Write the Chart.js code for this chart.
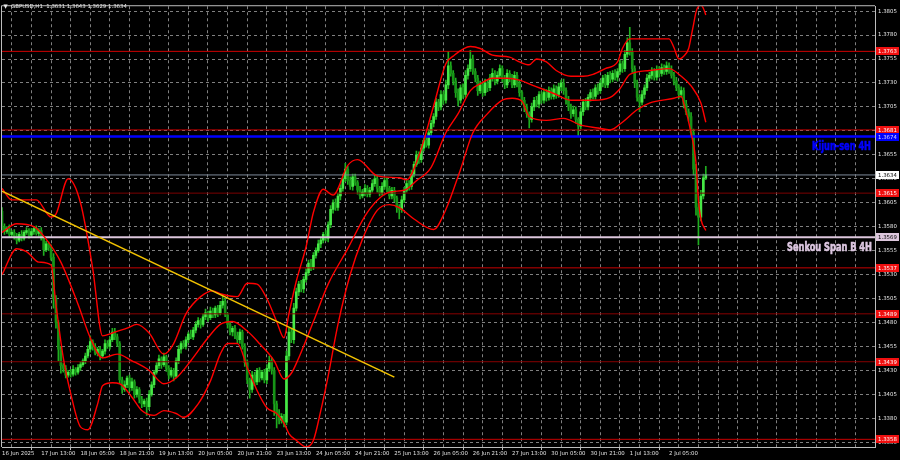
<!DOCTYPE html>
<html>
<head>
<meta charset="utf-8">
<script src="https://cdn.jsdelivr.net/npm/chart.js@4.4.1/dist/chart.umd.min.js"></script>
<style>
  html, body { margin: 0; padding: 0; background: #000; }
  canvas { display: block; }
</style>
</head>
<body>
<canvas id="chart" width="900" height="460"></canvas>
<script>
const headerText = 'GBPUSD,H1  1.3631 1.3643 1.3629 1.3634';

// one label every 16 hourly bars
const timeLabels = ['16 Jun 2025', '17 Jun 13:00', '18 Jun 05:00', '18 Jun 21:00', '19 Jun 13:00',
  '20 Jun 05:00', '20 Jun 21:00', '23 Jun 13:00', '24 Jun 05:00', '24 Jun 21:00', '25 Jun 13:00',
  '26 Jun 05:00', '26 Jun 21:00', '27 Jun 13:00', '30 Jun 05:00', '30 Jun 21:00', '1 Jul 13:00', '2 Jul 05:00'];

const priceTicks = [1.3805, 1.3780, 1.3755, 1.3730, 1.3705, 1.3680, 1.3655, 1.3630, 1.3605, 1.3580,
  1.3555, 1.3530, 1.3505, 1.3480, 1.3455, 1.3430, 1.3405, 1.3380, 1.3355];

// H1 candles: close of each bar, open = previous close
const firstOpen = 1.3596;
const closes = [
  1.3580, 1.3575, 1.3578, 1.3572, 1.3574, 1.3570, 1.3566, 1.3572, 1.3568, 1.3574, 1.3576, 1.3571, 1.3575, 1.3578, 1.3573, 1.3576,
  1.3568, 1.3556, 1.3562, 1.3558, 1.3548, 1.3505, 1.3480, 1.3452, 1.3435, 1.3432, 1.3425, 1.3428, 1.3426, 1.3431, 1.3428, 1.3433,
  1.3436, 1.3440, 1.3445, 1.3452, 1.3460, 1.3455, 1.3448, 1.3452, 1.3445, 1.3450, 1.3458, 1.3455, 1.3462, 1.3470, 1.3465, 1.3458,
  1.3420, 1.3410, 1.3415, 1.3422, 1.3412, 1.3418, 1.3405, 1.3410, 1.3400, 1.3395, 1.3398, 1.3392, 1.3405, 1.3415, 1.3428, 1.3435,
  1.3442, 1.3436, 1.3444, 1.3432, 1.3425, 1.3430, 1.3424, 1.3440, 1.3452, 1.3458, 1.3455, 1.3462, 1.3468, 1.3465, 1.3472, 1.3478,
  1.3482, 1.3478, 1.3486, 1.3490, 1.3485, 1.3492, 1.3488, 1.3495, 1.3490, 1.3498, 1.3502, 1.3488, 1.3478, 1.3470, 1.3474, 1.3466,
  1.3462, 1.3470, 1.3455, 1.3438, 1.3420, 1.3410, 1.3425, 1.3418, 1.3430, 1.3422, 1.3428, 1.3420, 1.3432, 1.3440, 1.3430, 1.3395,
  1.3385, 1.3378, 1.3382, 1.3376, 1.3445, 1.3470, 1.3462, 1.3495, 1.3512, 1.3520, 1.3515, 1.3525, 1.3532, 1.3542, 1.3538, 1.3550,
  1.3555, 1.3562, 1.3566, 1.3572, 1.3568, 1.3582, 1.3598, 1.3605, 1.3600, 1.3612, 1.3620, 1.3630, 1.3640, 1.3628, 1.3622, 1.3632,
  1.3626, 1.3618, 1.3612, 1.3616, 1.3620, 1.3614, 1.3618, 1.3625, 1.3630, 1.3620, 1.3615, 1.3622, 1.3628, 1.3620, 1.3612, 1.3618,
  1.3610, 1.3600, 1.3598, 1.3608, 1.3618, 1.3625, 1.3622, 1.3635, 1.3645, 1.3655, 1.3650, 1.3662, 1.3670, 1.3665, 1.3678, 1.3688,
  1.3695, 1.3710, 1.3705, 1.3718, 1.3712, 1.3728, 1.3748, 1.3740, 1.3732, 1.3720, 1.3712, 1.3725, 1.3718, 1.3738, 1.3745, 1.3755,
  1.3742, 1.3735, 1.3722, 1.3728, 1.3720, 1.3730, 1.3725, 1.3735, 1.3740, 1.3732, 1.3738, 1.3745, 1.3735, 1.3728, 1.3740, 1.3735,
  1.3728, 1.3738, 1.3730, 1.3720, 1.3712, 1.3705, 1.3698, 1.3692, 1.3705, 1.3712, 1.3708, 1.3718, 1.3712, 1.3720, 1.3715, 1.3722,
  1.3716, 1.3724, 1.3718, 1.3726, 1.3730, 1.3722, 1.3712, 1.3705, 1.3698, 1.3702, 1.3692, 1.3685, 1.3700, 1.3710, 1.3705, 1.3715,
  1.3720, 1.3716, 1.3725, 1.3722, 1.3730, 1.3735, 1.3728, 1.3738, 1.3734, 1.3740, 1.3736, 1.3742, 1.3750, 1.3745, 1.3760, 1.3772,
  1.3762, 1.3745, 1.3730, 1.3715, 1.3710, 1.3718, 1.3725, 1.3735, 1.3738, 1.3742, 1.3736, 1.3744, 1.3740, 1.3746, 1.3742, 1.3748,
  1.3744, 1.3738, 1.3732, 1.3725, 1.3718, 1.3722, 1.3708, 1.3700, 1.3695, 1.3678, 1.3640, 1.3600, 1.3590, 1.3612, 1.3631, 1.3634
];
// wick length in pips above / below the body
const wickUp = [
  4, 3, 2, 4, 2, 3, 3, 2, 4, 2, 3, 2, 3, 2, 3, 2,
  3, 2, 3, 2, 3, 4, 3, 2, 3, 2, 3, 2, 3, 4, 2, 3,
  3, 2, 3, 4, 6, 2, 3, 2, 3, 2, 4, 3, 3, 4, 4, 3,
  2, 3, 4, 2, 3, 4, 2, 3, 2, 3, 2, 3, 4, 3, 2, 3,
  4, 2, 4, 2, 3, 3, 2, 3, 4, 2, 3, 3, 2, 4, 3, 3,
  3, 2, 3, 4, 2, 4, 3, 2, 3, 4, 7, 3, 2, 3, 2, 3,
  4, 3, 2, 3, 3, 2, 4, 3, 2, 3, 2, 3, 4, 5, 3, 3,
  3, 4, 3, 2, 5, 4, 3, 5, 4, 3, 4, 3, 4, 3, 4, 3,
  3, 4, 3, 2, 4, 3, 4, 3, 4, 3, 4, 5, 6, 3, 4, 3,
  3, 2, 4, 3, 4, 3, 3, 4, 4, 3, 2, 4, 3, 3, 2, 3,
  3, 2, 3, 4, 3, 4, 3, 4, 3, 4, 3, 4, 3, 4, 4, 3,
  3, 4, 3, 4, 3, 5, 15, 4, 3, 3, 4, 3, 4, 5, 4, 9,
  4, 3, 3, 4, 3, 4, 3, 4, 5, 3, 4, 4, 3, 3, 4, 3,
  4, 4, 3, 3, 2, 3, 3, 2, 4, 3, 4, 3, 3, 4, 3, 4,
  3, 4, 3, 4, 3, 4, 3, 4, 3, 4, 3, 2, 4, 3, 4, 3,
  3, 4, 3, 4, 3, 3, 4, 3, 4, 3, 4, 3, 4, 3, 4, 5,
  16, 4, 3, 3, 3, 4, 3, 4, 3, 4, 3, 4, 3, 4, 3, 4,
  3, 4, 3, 4, 3, 4, 3, 4, 3, 4, 4, 5, 4, 6, 4, 9
];
const wickDown = [
  4, 3, 2, 3, 2, 3, 4, 2, 3, 2, 2, 3, 2, 3, 2, 3,
  2, 6, 2, 3, 3, 10, 6, 12, 8, 4, 3, 2, 3, 2, 3, 2,
  3, 2, 3, 2, 3, 4, 2, 3, 4, 2, 3, 2, 3, 2, 3, 3,
  3, 4, 2, 3, 4, 3, 4, 3, 4, 4, 3, 9, 3, 2, 3, 2,
  3, 4, 2, 3, 4, 2, 5, 2, 3, 4, 2, 3, 3, 2, 3, 3,
  3, 4, 2, 3, 4, 2, 3, 3, 4, 2, 3, 2, 4, 3, 4, 3,
  3, 4, 3, 4, 4, 9, 3, 4, 3, 4, 2, 3, 4, 3, 4, 12,
  15, 4, 3, 5, 3, 4, 3, 4, 3, 4, 3, 4, 3, 3, 4, 3,
  3, 2, 4, 3, 3, 4, 3, 4, 3, 3, 4, 3, 3, 4, 3, 4,
  3, 4, 3, 2, 4, 3, 3, 2, 3, 4, 3, 2, 3, 4, 3, 3,
  4, 5, 10, 3, 3, 2, 4, 3, 3, 2, 4, 3, 3, 2, 3, 3,
  4, 3, 4, 3, 4, 3, 4, 3, 4, 5, 6, 3, 4, 3, 4, 3,
  3, 4, 5, 3, 4, 3, 4, 3, 3, 4, 3, 3, 4, 4, 3, 4,
  3, 3, 4, 4, 4, 5, 4, 9, 3, 4, 3, 4, 3, 3, 4, 3,
  3, 3, 4, 3, 4, 4, 4, 4, 5, 3, 4, 10, 3, 4, 3, 3,
  4, 3, 3, 4, 3, 4, 3, 3, 4, 3, 3, 4, 3, 4, 3, 3,
  3, 4, 5, 4, 10, 3, 4, 3, 3, 4, 3, 3, 4, 3, 3, 3,
  4, 3, 4, 3, 4, 3, 4, 3, 5, 4, 6, 8, 29, 4, 3, 2
];

// Bollinger bands, read at bar positions
const bbUpperBars = [0, 4, 14, 20, 22, 27, 32, 37, 41, 45, 51, 55, 60, 66, 70, 75, 81, 86, 89, 96,
  100, 104, 108, 112, 115, 117, 120, 124, 127, 131, 135, 141, 145, 153, 162, 165, 170, 176, 181, 184,
  191, 195, 200, 207, 211, 215, 218, 222, 226, 232, 237, 241, 246, 251, 253, 256, 263, 272, 274, 276,
  278, 280, 281, 282, 283, 284, 285, 286, 287];
const bbUpper = [1.3620, 1.3608, 1.3608, 1.3590, 1.3593, 1.3630, 1.3605, 1.3536, 1.3466, 1.3469,
  1.3474, 1.3478, 1.3469, 1.3447, 1.3458, 1.3489, 1.3507, 1.3513, 1.3510, 1.3507,
  1.3521, 1.3520, 1.3505, 1.3481, 1.3464, 1.3489, 1.3523, 1.3559, 1.3595, 1.3619,
  1.3613, 1.3644, 1.3650, 1.3633, 1.3631, 1.3629, 1.3654, 1.3706, 1.3750, 1.3758,
  1.3768, 1.3766, 1.3759, 1.3757, 1.3752, 1.3749, 1.3755, 1.3752, 1.3743, 1.3737,
  1.3737, 1.3739, 1.3745, 1.3752, 1.3766, 1.3776, 1.3776, 1.3776, 1.3767, 1.3755,
  1.3758, 1.3766, 1.3778, 1.3791, 1.3804, 1.3810, 1.3811, 1.3808, 1.3801];
const bbMiddleBars = [0, 6, 13, 18, 24, 31, 36, 41, 47, 53, 60, 66, 71, 77, 84, 89, 94, 100, 105, 111,
  115, 118, 121, 127, 133, 141, 149, 158, 164, 169, 175, 181, 186, 191, 195, 200, 206, 211, 217, 225,
  232, 241, 248, 252, 256, 264, 272, 277, 281, 285, 287];
const bbMiddle = [1.3574, 1.3583, 1.3580, 1.3567, 1.3543, 1.3499, 1.3464, 1.3443, 1.3447, 1.3440,
  1.3430, 1.3416, 1.3422, 1.3440, 1.3464, 1.3478, 1.3481, 1.3471, 1.3458, 1.3440,
  1.3421, 1.3427, 1.3443, 1.3481, 1.3520, 1.3557, 1.3595, 1.3616, 1.3618, 1.3628,
  1.3642, 1.3678, 1.3698, 1.3722, 1.3729, 1.3735, 1.3735, 1.3733, 1.3727, 1.3719,
  1.3712, 1.3712, 1.3715, 1.3724, 1.3739, 1.3743, 1.3745, 1.3737, 1.3727, 1.3709, 1.3689];
const bbLowerBars = [0, 6, 10, 15, 20, 22, 25, 28, 32, 35, 39, 41, 45, 48, 53, 57, 62, 66, 71, 74,
  80, 85, 89, 92, 96, 100, 104, 108, 112, 115, 117, 120, 124, 127, 130, 133, 137, 142, 147, 153,
  158, 162, 168, 176, 181, 187, 192, 198, 204, 208, 212, 215, 222, 229, 236, 243, 248, 253, 259, 264,
  274, 277, 278, 281, 283, 284, 285, 287];
const bbLower = [1.3530, 1.3557, 1.3554, 1.3543, 1.3540, 1.3499, 1.3443, 1.3406, 1.3371, 1.3368,
  1.3395, 1.3414, 1.3417, 1.3416, 1.3402, 1.3388, 1.3383, 1.3388, 1.3385, 1.3381,
  1.3395, 1.3419, 1.3447, 1.3458, 1.3458, 1.3433, 1.3409, 1.3391, 1.3385, 1.3375,
  1.3364, 1.3357, 1.3350, 1.3357, 1.3388, 1.3424, 1.3478, 1.3530, 1.3567, 1.3597,
  1.3603, 1.3600, 1.3588, 1.3577, 1.3598, 1.3640, 1.3678, 1.3698, 1.3712, 1.3714,
  1.3711, 1.3695, 1.3691, 1.3693, 1.3686, 1.3683, 1.3681, 1.3689, 1.3702, 1.3709,
  1.3714, 1.3716, 1.3709, 1.3678, 1.3647, 1.3608, 1.3588, 1.3576];

// horizontal levels
const levelPrices = [1.3763, 1.3681, 1.3615, 1.3537, 1.3489, 1.3439, 1.3358];
const kijunPrice = 1.3674;
const senkouPrice = 1.3569;
const bidPrice = 1.3634;
const kijunText = 'Kijun-sen 4H';
const senkouText = 'Senkou Span B 4H';

// trend line
const trendBars = [0, 160];
const trendPrices = [1.3617, 1.3423];

// ---- styling ----
const X_MAX = 356;
const Y_MIN = 1.3350;
const Y_MAX = 1.38101;
const PIP = 0.0001;
const GRID = 'rgba(160,160,160,0.8)';
const FRAME = '#bdbdbd';
const AXIS_FONT = { family: 'DejaVu Sans', size: 5.4 };
const levelShades = ['#d00000', '#c40000', '#7c0000', '#c80000', '#880000', '#880000', '#c80000'];

const opens = closes.map((c, i) => (i === 0 ? firstOpen : closes[i - 1]));
const highs = closes.map((c, i) => Math.max(opens[i], c) + wickUp[i] * PIP);
const lows = closes.map((c, i) => Math.min(opens[i], c) - wickDown[i] * PIP);

const toPoints = (xs, ys) => xs.map((x, i) => ({ x: x, y: ys[i] }));

function hLine(price, color, width) {
  return {
    type: 'line',
    data: [{ x: 0, y: price }, { x: X_MAX, y: price }],
    borderColor: color,
    borderWidth: width,
    pointRadius: 0,
    order: 3
  };
}

function band(xs, ys) {
  return {
    type: 'line',
    data: toPoints(xs, ys),
    borderColor: '#ff0000',
    borderWidth: 1.4,
    pointRadius: 0,
    cubicInterpolationMode: 'monotone',
    order: 2
  };
}

const datasets = [
  {
    type: 'bar',
    data: closes.map((c, i) => ({ x: i, y: [lows[i], highs[i]] })),
    backgroundColor: '#1fae1f',
    borderWidth: 0,
    barThickness: 1,
    grouped: false,
    order: 11
  },
  {
    type: 'bar',
    data: closes.map((c, i) => ({ x: i, y: [opens[i], c] })),
    backgroundColor: (c) => (closes[c.dataIndex] >= opens[c.dataIndex] ? '#46e846' : '#179417'),
    borderWidth: 0,
    barThickness: 2,
    minBarLength: 1,
    grouped: false,
    order: 10
  },
  band(bbUpperBars, bbUpper),
  band(bbMiddleBars, bbMiddle),
  band(bbLowerBars, bbLower),
  ...levelPrices.map((p, i) => hLine(p, levelShades[i], 1)),
  hLine(bidPrice, '#7d8a99', 1),
  hLine(senkouPrice, '#dcc6dc', 2),
  hLine(kijunPrice, '#0000ff', 2.5),
  {
    type: 'line',
    data: toPoints(trendBars, trendPrices),
    borderColor: '#f2c200',
    borderWidth: 1.5,
    pointRadius: 0,
    order: 0
  }
];

function fittedText(ctx, text, right, cy, width, color) {
  ctx.save();
  ctx.font = 'bold 12px "Liberation Sans Narrow", "DejaVu Sans Condensed", "Liberation Sans", sans-serif';
  const w = ctx.measureText(text).width;
  ctx.translate(right - width, cy);
  ctx.scale(width / w, 1);
  ctx.fillStyle = color;
  ctx.strokeStyle = color;
  ctx.lineWidth = 0.6;
  ctx.textBaseline = 'middle';
  ctx.textAlign = 'left';
  ctx.fillText(text, 0, 0);
  ctx.strokeText(text, 0, 0);
  ctx.restore();
}

function priceTag(ctx, area, yPix, text, bg, fg) {
  ctx.fillStyle = bg;
  ctx.fillRect(area.right + 1, Math.round(yPix) - 4, 23, 8);
  ctx.fillStyle = fg;
  ctx.font = '5.4px "DejaVu Sans"';
  ctx.textBaseline = 'middle';
  ctx.textAlign = 'left';
  ctx.fillText(text, area.right + 3, Math.round(yPix) + 0.5);
}

const overlay = {
  id: 'overlay',
  afterDatasetsDraw(chart) {
    const { ctx, chartArea, scales } = chart;
    const y = scales.y;
    ctx.save();
    ctx.beginPath();
    ctx.rect(chartArea.left, chartArea.top, chartArea.right - chartArea.left, chartArea.bottom - chartArea.top);
    ctx.clip();
    fittedText(ctx, kijunText, chartArea.right - 4, y.getPixelForValue(kijunPrice) + 10, 59, '#0000ff');
    fittedText(ctx, senkouText, chartArea.right - 3, y.getPixelForValue(senkouPrice) + 11, 85, '#dcc6e0');
    ctx.restore();
  },
  afterDraw(chart) {
    const { ctx, chartArea, scales } = chart;
    const y = scales.y;
    ctx.save();
    // frame left / top
    ctx.strokeStyle = FRAME;
    ctx.lineWidth = 1;
    ctx.beginPath();
    ctx.moveTo(chartArea.left - 0.5, chartArea.bottom);
    ctx.lineTo(chartArea.left - 0.5, chartArea.top - 0.5);
    ctx.lineTo(chartArea.right, chartArea.top - 0.5);
    ctx.stroke();

    // price tags on the right axis
    levelPrices.forEach((p) => priceTag(ctx, chartArea, y.getPixelForValue(p), p.toFixed(4), '#f01010', '#ffffff'));
    priceTag(ctx, chartArea, y.getPixelForValue(kijunPrice), kijunPrice.toFixed(4), '#0000ff', '#d8d8ff');
    priceTag(ctx, chartArea, y.getPixelForValue(bidPrice), bidPrice.toFixed(4), '#ffffff', '#000000');
    priceTag(ctx, chartArea, y.getPixelForValue(senkouPrice), senkouPrice.toFixed(4), '#dcc6dc', '#000000');

    // header
    ctx.fillStyle = '#e8e8e8';
    ctx.font = '5.4px "DejaVu Sans"';
    ctx.textBaseline = 'middle';
    ctx.textAlign = 'left';
    ctx.fillText('\u25BC', 3.5, 6.5);
    ctx.fillText(headerText, 11, 6.5);
    ctx.restore();
  }
};

const chart = new Chart(document.getElementById('chart').getContext('2d'), {
  type: 'bar',
  data: { datasets },
  plugins: [overlay],
  options: {
    responsive: false,
    devicePixelRatio: 1,
    animation: false,
    events: [],
    layout: { padding: { left: 2, top: 2, right: 0, bottom: 0 } },
    plugins: {
      legend: { display: false },
      tooltip: { enabled: false }
    },
    scales: {
      x: {
        type: 'linear',
        min: 0,
        max: X_MAX,
        offset: false,
        afterBuildTicks: (scale) => {
          const t = [];
          for (let v = 0; v <= X_MAX; v += 8) t.push({ value: v });
          scale.ticks = t;
        },
        afterFit: (scale) => { scale.height = 13; },
        ticks: {
          autoSkip: false,
          maxRotation: 0,
          minRotation: 0,
          align: 'start',
          padding: 0,
          color: '#e0e0e0',
          font: AXIS_FONT,
          callback: (v) => (v % 16 === 0 && v / 16 < timeLabels.length ? timeLabels[v / 16] : '')
        },
        grid: {
          color: (c) => (c.tick && c.tick.value > 0 ? GRID : 'transparent'),
          lineWidth: 1,
          tickLength: 3,
          tickColor: (c) => (c.tick && c.tick.value % 16 === 0 && c.tick.value / 16 < timeLabels.length ? FRAME : 'transparent')
        },
        border: { color: FRAME, width: 1, dash: [3, 3] }
      },
      y: {
        position: 'right',
        min: Y_MIN,
        max: Y_MAX,
        afterBuildTicks: (scale) => { scale.ticks = priceTicks.map((v) => ({ value: v })); },
        afterFit: (scale) => { scale.width = 25; },
        ticks: {
          autoSkip: false,
          padding: 3,
          color: '#e8e8e8',
          font: AXIS_FONT,
          callback: (v) => v.toFixed(4)
        },
        grid: { color: GRID, drawTicks: false, lineWidth: 1 },
        border: { color: FRAME, width: 1, dash: [3, 3] }
      }
    }
  }
});
</script>
</body>
</html>
